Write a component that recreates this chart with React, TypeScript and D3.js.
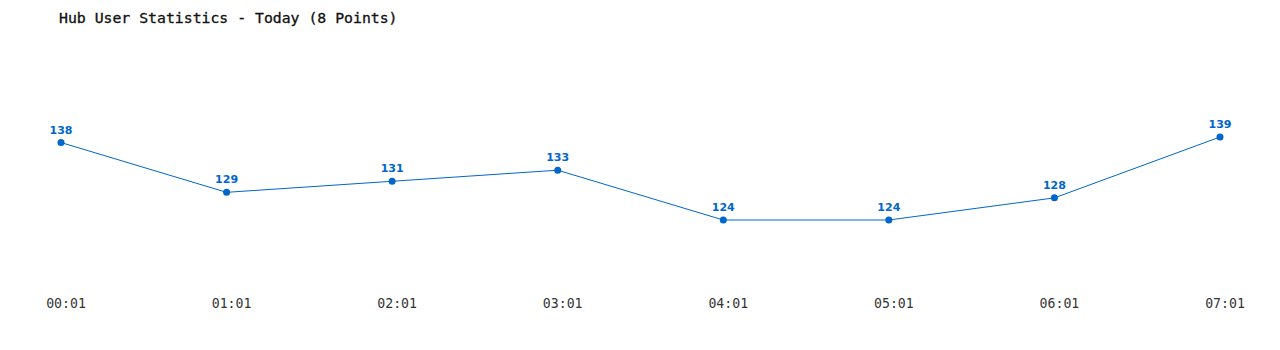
import React from "react";
import * as d3 from "d3";

const categories = ["00:01", "01:01", "02:01", "03:01", "04:01", "05:01", "06:01", "07:01"];
const values = [138, 129, 131, 133, 124, 124, 128, 139];
const title = "Hub User Statistics - Today (8 Points)";

export default function App() {
  const W = 1280, H = 350;
  const x = d3.scalePoint<string>().domain(categories).range([61, 1220]);
  const y = d3.scaleLinear().domain([124, 139]).range([220, 137]);
  const line = d3.line<number>().x((_, i) => x(categories[i])!).y((v) => y(v));
  const color = "#0066cc";
  return (
    <svg width={W} height={H} style={{ position: "absolute", left: 0, top: 0 }}>
      <rect width={W} height={H} fill="#fff" />
      <text x={59} y={23} fontFamily="'DejaVu Sans Mono', monospace" fontSize={14.8} fill="#111" stroke="#111" strokeWidth={0.3}>{title}</text>
      <path d={line(values) || ""} fill="none" stroke={color} strokeWidth={1} />
      {values.map((v, i) => (
        <g key={i}>
          <circle cx={x(categories[i])} cy={y(v)} r={3.5} fill={color} />
          <text x={x(categories[i])} y={y(v) - 9} textAnchor="middle" fontFamily="'DejaVu Sans', sans-serif" fontSize={11} fontWeight="bold" fill={color}>{v}</text>
        </g>
      ))}
      {categories.map((c, i) => (
        <text key={c} x={x(c)! + 5} y={308} textAnchor="middle" fontFamily="'DejaVu Sans Mono', monospace" fontSize={13.2} fill="#333">{c}</text>
      ))}
    </svg>
  );
}
